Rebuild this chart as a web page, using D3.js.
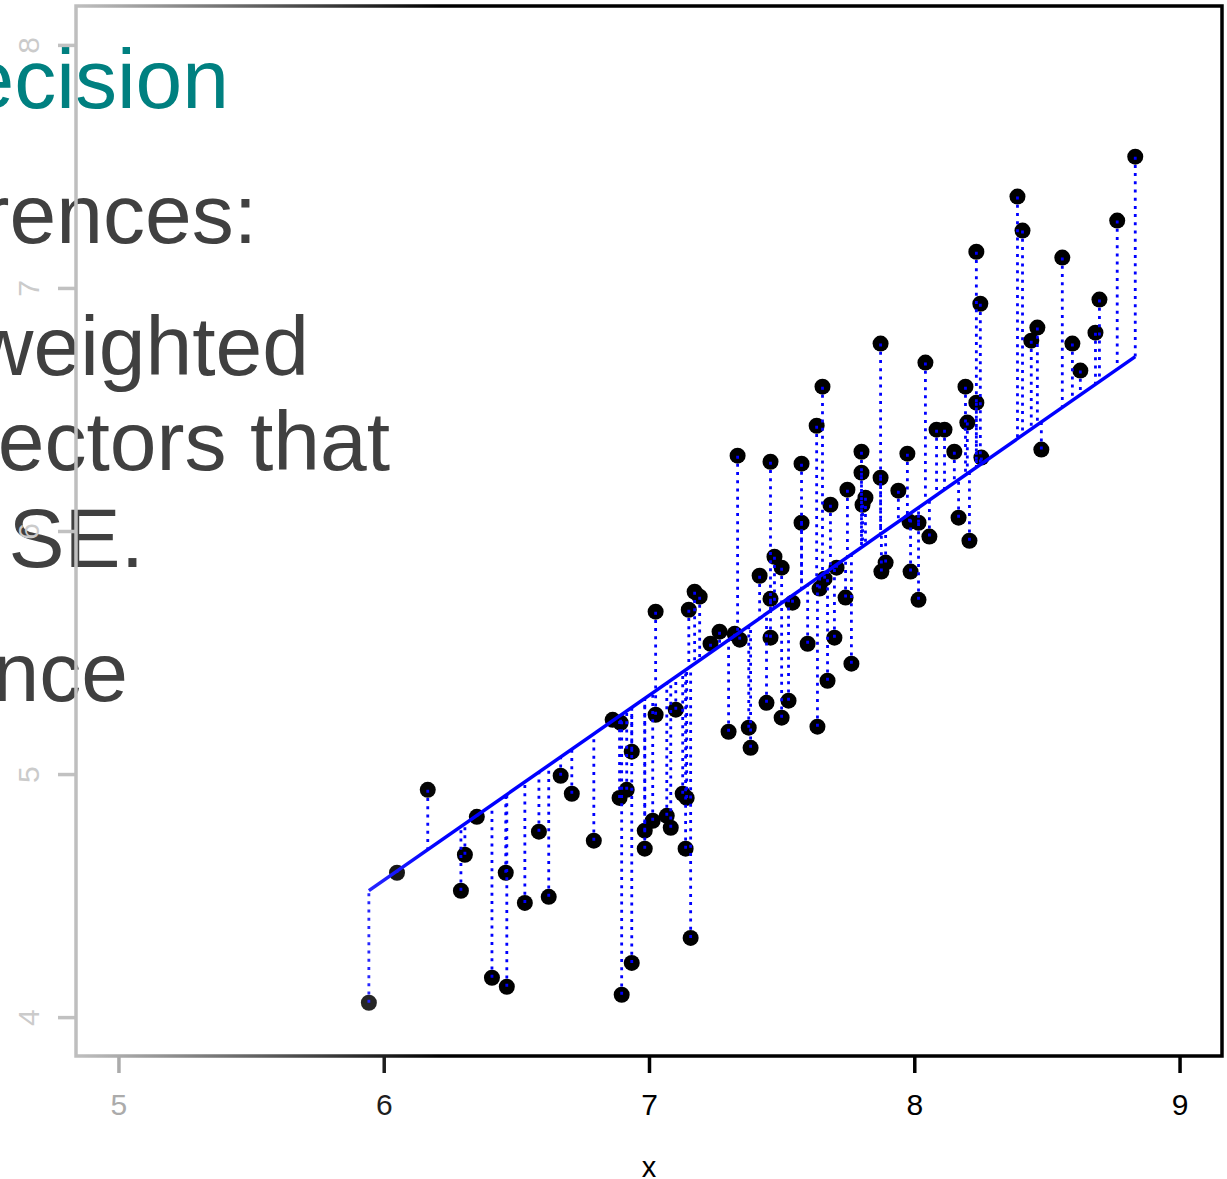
<!DOCTYPE html>
<html>
<head>
<meta charset="utf-8">
<script src="https://cdn.jsdelivr.net/npm/d3@7"></script>
<style>
  html, body { margin: 0; padding: 0; background: #fff; overflow: hidden; }
  svg { display: block; }
</style>
</head>
<body>
<svg id="chart" width="1227" height="1179"></svg>
<script>
// ---- data ----
const xValues = [
  5.944, 6.050, 6.166, 6.291, 6.306, 6.351, 6.408, 6.460, 6.464, 6.532,
  6.585, 6.622, 6.667, 6.709, 6.792, 6.863, 6.893, 6.889, 6.916, 6.897,
  6.935, 6.935, 6.984, 6.984, 7.014, 7.025, 7.025, 7.067, 7.082, 7.101,
  7.127, 7.142, 7.138, 7.157, 7.150, 7.172, 7.191, 7.232, 7.266, 7.323,
  7.342, 7.300, 7.334, 7.376, 7.383, 7.417, 7.443, 7.458, 7.458, 7.458,
  7.473, 7.500, 7.500, 7.526, 7.541, 7.575, 7.575, 7.598, 7.632, 7.635,
  7.643, 7.654, 7.662, 7.673, 7.684, 7.699, 7.707, 7.741, 7.748, 7.763,
  7.801, 7.801, 7.816, 7.805, 7.873, 7.873, 7.876, 7.892, 7.940, 7.974,
  7.982, 7.986, 8.016, 8.016, 8.042, 8.057, 8.084, 8.114, 8.151, 8.167,
  8.193, 8.200, 8.208, 8.234, 8.234, 8.249, 8.253, 8.389, 8.408, 8.441,
  8.464, 8.479, 8.558, 8.596, 8.626, 8.683, 8.698, 8.765, 8.833
];
const yValues = [
  4.059, 4.594, 4.935, 4.520, 4.668, 4.824, 4.162, 4.594, 4.125, 4.470,
  4.763, 4.495, 4.993, 4.919, 4.726, 5.223, 5.211, 4.902, 4.935, 4.092,
  5.092, 4.223, 4.767, 4.693, 4.808, 5.668, 5.244, 4.828, 4.779, 5.265,
  4.919, 4.902, 4.693, 4.326, 5.676, 5.750, 5.730, 5.536, 5.586, 5.577,
  5.553, 5.174, 6.310, 5.191, 5.108, 5.816, 5.293, 6.285, 5.721, 5.561,
  5.894, 5.849, 5.232, 5.302, 5.705, 6.277, 6.034, 5.536, 6.433, 5.195,
  5.763, 6.594, 5.804, 5.384, 6.108, 5.561, 5.849, 5.726, 6.170, 5.454,
  6.326, 6.240, 6.137, 6.108, 6.771, 6.219, 5.833, 5.870, 6.166, 6.318,
  6.038, 5.833, 6.034, 5.717, 6.693, 5.977, 6.417, 6.417, 6.326, 6.055,
  6.594, 6.446, 5.960, 7.149, 6.528, 6.935, 6.302, 7.376, 7.236, 6.783,
  6.837, 6.335, 7.125, 6.771, 6.660, 6.816, 6.952, 7.277, 7.540
];
// fitted least-squares line
const fitIntercept = 0.0;
const fitSlope = 0.7605;

const xTicks = [5, 6, 7, 8, 9];
const yTicks = [4, 5, 6, 7, 8];
const xTitle = "x";

// slide text lying underneath the plot
const slideText = ["ecision", "rences:", "weighted", "ectors that", "SE.", "nce"];

// ---- layout ----
const W = 1227, H = 1179;
const plot = { left: 76, right: 1222, top: 6, bottom: 1056 };
const slideLayout = [
  { baseline: 108, right: 229, color: "#008080" },
  { baseline: 243, right: 257, color: "#404040" },
  { baseline: 375, right: 309, color: "#404040" },
  { baseline: 470, right: 390, color: "#404040" },
  { baseline: 567, right: 144, color: "#404040" },
  { baseline: 701, right: 128, color: "#404040" }
];
const FONT = "'Liberation Sans', Arial, Helvetica, sans-serif";

const svg = d3.select("#chart").attr("width", W).attr("height", H);

// the plot fades out towards the left edge (blend towards white)
const fadeStops = [[0, 0.82], [76, 0.75], [118, 0.67], [440, 0]];
function fadeAt(px) {
  if (px <= fadeStops[0][0]) return fadeStops[0][1];
  for (let i = 1; i < fadeStops.length; i++) {
    const [x1, f1] = fadeStops[i];
    const [x0, f0] = fadeStops[i - 1];
    if (px <= x1) return f0 + (f1 - f0) * (px - x0) / (x1 - x0);
  }
  return 0;
}
const inkAt = px => d3.interpolateRgb("#000000", "#ffffff")(fadeAt(px));
const blueAt = px => d3.interpolateRgb("#0000ff", "#ffffff")(fadeAt(px));

const defs = svg.append("defs");
function fadeGradient(id, colorFn) {
  const g = defs.append("linearGradient").attr("id", id)
    .attr("gradientUnits", "userSpaceOnUse")
    .attr("x1", 0).attr("y1", 0).attr("x2", W).attr("y2", 0);
  const xs = d3.range(0, 461, 20).concat([W]);
  xs.forEach(px => g.append("stop").attr("offset", px / W).attr("stop-color", colorFn(px)));
}
fadeGradient("inkFade", inkAt);
fadeGradient("blueFade", blueAt);

// ---- slide text (underneath) ----
svg.append("g").selectAll("text")
  .data(slideText)
  .join("text")
  .attr("x", (d, i) => slideLayout[i].right)
  .attr("y", (d, i) => slideLayout[i].baseline)
  .attr("text-anchor", "end")
  .attr("font-family", FONT)
  .attr("font-size", 84)
  .attr("fill", (d, i) => slideLayout[i].color)
  .text(d => d);

// ---- scales ----
const x = d3.scaleLinear().domain([4.84, 9.16]).range([plot.left, plot.right]);
const y = d3.scaleLinear().domain([3.84, 8.16]).range([plot.bottom, plot.top]);

const chart = svg.append("g");

// axes
const xAxis = chart.append("g")
  .attr("transform", `translate(0,${plot.bottom})`)
  .call(d3.axisBottom(x).tickValues(xTicks).tickSize(17).tickPadding(21).tickFormat(d3.format("d")));
xAxis.select(".domain").remove();
xAxis.selectAll(".tick").each(function (d) {
  const px = x(d);
  d3.select(this).select("line").attr("stroke", inkAt(px)).attr("stroke-width", 3.5);
  d3.select(this).select("text").attr("fill", inkAt(px))
    .attr("font-family", FONT).attr("font-size", 30);
});

const yAxis = chart.append("g")
  .attr("transform", `translate(${plot.left},0)`)
  .call(d3.axisLeft(y).tickValues(yTicks).tickSize(18).tickFormat(d3.format("d")));
yAxis.select(".domain").remove();
yAxis.selectAll(".tick").each(function () {
  d3.select(this).select("line").attr("stroke", inkAt(plot.left - 9)).attr("stroke-width", 3.5);
  d3.select(this).select("text")
    .attr("transform", "rotate(-90)")
    .attr("text-anchor", "middle")
    .attr("x", 0).attr("y", -37).attr("dy", 0)
    .attr("fill", inkAt(28))
    .attr("font-family", FONT).attr("font-size", 30);
});

chart.append("text")
  .attr("x", x(7)).attr("y", 1177)
  .attr("text-anchor", "middle")
  .attr("font-family", FONT).attr("font-size", 29)
  .attr("fill", inkAt(x(7)))
  .text(xTitle);

// box
chart.append("rect")
  .attr("x", plot.left).attr("y", plot.top)
  .attr("width", plot.right - plot.left).attr("height", plot.bottom - plot.top)
  .attr("fill", "none").attr("stroke", "url(#inkFade)").attr("stroke-width", 3.5);

// points
const pts = xValues.map((v, i) => ({ x: v, y: yValues[i] }));
chart.append("g").selectAll("circle")
  .data(pts)
  .join("circle")
  .attr("cx", d => x(d.x)).attr("cy", d => y(d.y)).attr("r", 8)
  .attr("fill", d => inkAt(x(d.x)));

// fitted line
const fit = v => fitIntercept + fitSlope * v;
const xMin = d3.min(xValues), xMax = d3.max(xValues);
chart.append("line")
  .attr("x1", x(xMin)).attr("y1", y(fit(xMin)))
  .attr("x2", x(xMax)).attr("y2", y(fit(xMax)))
  .attr("stroke", "url(#blueFade)").attr("stroke-width", 3.5);

// residuals
chart.append("g").selectAll("line")
  .data(pts)
  .join("line")
  .attr("x1", d => x(d.x)).attr("y1", d => y(d.y))
  .attr("x2", d => x(d.x)).attr("y2", d => y(fit(d.x)))
  .attr("stroke", d => blueAt(x(d.x)))
  .attr("stroke-width", 2.8)
  .attr("stroke-dasharray", "3 5.2");
</script>
</body>
</html>
